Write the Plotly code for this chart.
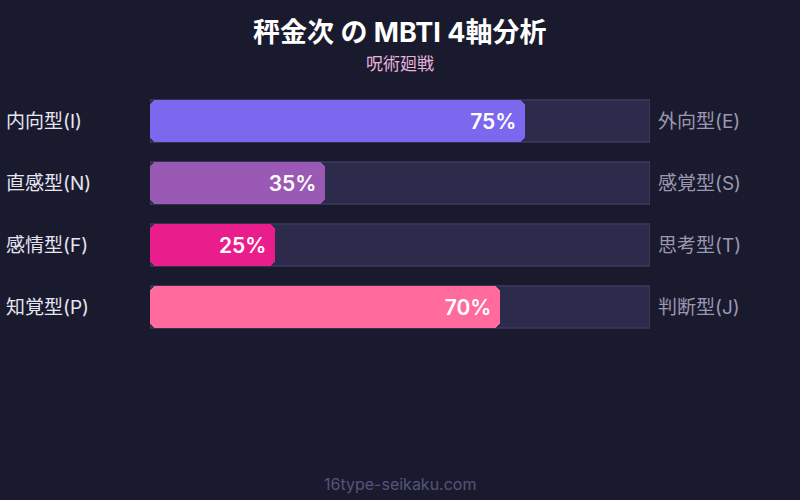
import plotly.graph_objects as go

# ---- data ----
left_labels = ["内向型(I)", "直感型(N)", "感情型(F)", "知覚型(P)"]
right_labels = ["外向型(E)", "感覚型(S)", "思考型(T)", "判断型(J)"]
values = [75, 35, 25, 70]
bar_colors = ["#7b68ee", "#9b59b6", "#e91e8c", "#ff6b9d"]
title_text = "秤金次 の MBTI 4軸分析"
subtitle_text = "呪術廻戦"
footer_text = "16type-seikaku.com"

BG = "#1a1a2e"
FONT = "Inter, 'Noto Sans CJK JP', sans-serif"
W = 0.68

rows = list(range(len(values)))
half = [v / 2 for v in values]

fig = go.Figure()

# track
fig.add_trace(go.Bar(
    y=rows, x=[100] * len(rows), orientation="h",
    marker=dict(color="#2d2b4b", line=dict(color="#46446a", width=1)),
    width=W, hoverinfo="skip", showlegend=False,
))
# left half (rounded at 0)
fig.add_trace(go.Bar(
    y=rows, x=[-h for h in half], base=half, orientation="h",
    marker=dict(color=bar_colors, line=dict(width=0), cornerradius=7),
    width=W, hoverinfo="skip", showlegend=False,
))
# middle filler (square) to join the two halves
fig.add_trace(go.Bar(
    y=rows, x=half, base=[v / 4 for v in values], orientation="h",
    marker=dict(color=bar_colors, line=dict(width=0), cornerradius=0),
    width=W, hoverinfo="skip", showlegend=False,
))
# right half (rounded at value) with label
fig.add_trace(go.Bar(
    y=rows, x=half, base=half, orientation="h",
    marker=dict(color=bar_colors, line=dict(width=0), cornerradius=7),
    width=W, showlegend=False,
    text=[f"{v}%\u00a0" for v in values], textposition="inside",
    insidetextanchor="end", textangle=0,
    textfont=dict(family=FONT, size=21, color="#ffffff", weight=600),
    hoverinfo="skip",
))

annotations = []
for i, (l, r) in enumerate(zip(left_labels, right_labels)):
    annotations.append(dict(
        x=-0.292, xref="paper", y=i, yref="y", text=l, showarrow=False,
        xanchor="left", yanchor="middle",
        font=dict(family=FONT, size=19, color="#e6e6f0"),
    ))
    annotations.append(dict(
        x=1.012, xref="paper", y=i, yref="y", text=r, showarrow=False,
        xanchor="left", yanchor="middle",
        font=dict(family=FONT, size=19, color="#9a98b0"),
    ))

annotations += [
    dict(x=0.5, xref="paper", y=1.23, yref="paper", text=f"<b>{title_text}</b>",
         showarrow=False, xanchor="center", yanchor="middle",
         font=dict(family=FONT, size=27, color="#ffffff")),
    dict(x=0.5, xref="paper", y=1.105, yref="paper", text=subtitle_text,
         showarrow=False, xanchor="center", yanchor="middle",
         font=dict(family=FONT, size=17, color="#e8b4dc")),
    dict(x=0.5, xref="paper", y=-0.589, yref="paper", text=footer_text,
         showarrow=False, xanchor="center", yanchor="middle",
         font=dict(family=FONT, size=16, color="#55547a")),
]

fig.update_layout(
    width=800, height=500,
    paper_bgcolor=BG, plot_bgcolor=BG,
    margin=dict(l=150, r=150, t=90, b=162),
    barmode="overlay",
    bargap=0,
    showlegend=False,
    hovermode=False,
    xaxis=dict(range=[0, 100], visible=False, fixedrange=True),
    yaxis=dict(range=[3.5, -0.5], visible=False, fixedrange=True),
    annotations=annotations,
    font=dict(family=FONT),
)

fig.write_html(
    "out.html",
    config={"displayModeBar": False, "staticPlot": True},
    post_script="document.body.style.margin='0';document.body.style.background='#1a1a2e';",
)
